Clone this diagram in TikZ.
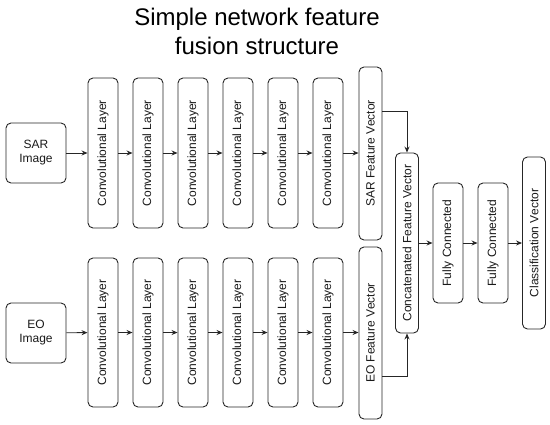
\documentclass[tikz,border=0pt]{standalone}
\usepackage{fontspec}
\setmainfont{Liberation Sans}
\usetikzlibrary{arrows.meta}
\begin{document}
\begin{tikzpicture}[x=1pt,y=-1pt,
  box/.style={draw=black!85, line width=0.9pt, rounded corners=5pt, inner sep=0pt,
    font=\fontsize{12}{14}\selectfont, text=black!90, align=center},
  conv/.style={box, minimum width=30pt, minimum height=150pt},
  vec/.style={box, minimum width=23pt},
  fc/.style={box, minimum width=30pt, minimum height=120pt},
  img/.style={box, minimum width=60pt, minimum height=60pt},
  arr/.style={draw=black!85, line width=0.9pt, -{Stealth[length=6pt,width=5pt]}}]
\useasboundingbox (0,0) rectangle (550,424);
\node[font=\fontsize{24}{29}\selectfont, align=center] (title) at (257,31) {Simple network feature\\fusion structure};
% SAR branch
\node[img] (sar) at (36,153) {SAR\\Image};
\foreach \i in {1,...,6} {
  \node[conv] (c\i) at ({103+45*(\i-1)},153) {\rotatebox{90}{Convolutional Layer}};
}
\node[vec, minimum height=173pt] (sarfv) at (370.5,153.5) {\rotatebox{90}{SAR Feature Vector}};
% EO branch
\node[img] (eo) at (36,333) {EO\\Image};
\foreach \i in {1,...,6} {
  \node[conv, minimum height=149pt] (e\i) at ({103+45*(\i-1)},332.5) {\rotatebox{90}{Convolutional Layer}};
}
\node[vec, minimum height=172pt] (eofv) at (370.5,333) {\rotatebox{90}{EO Feature Vector}};
% fusion
\node[vec, minimum height=180pt] (cat) at (407,243) {\rotatebox{90}{Concatenated Feature Vector}};
\node[fc] (fc1) at (448,243) {\rotatebox{90}{Fully Connected}};
\node[fc] (fc2) at (493,243) {\rotatebox{90}{Fully Connected}};
\node[vec, minimum height=172pt] (cls) at (534,243) {\rotatebox{90}{Classification Vector}};
% connectors
\draw[arr] (sar) -- (c1);
\draw[arr] (eo) -- (e1);
\foreach \a/\b in {1/2,2/3,3/4,4/5,5/6} {
  \draw[arr] (c\a) -- (c\b);
  \draw[arr] (e\a) -- (e\b);
}
\draw[arr] (c6) -- (c6 -| sarfv.west);
\draw[arr] (e6) -- (e6 -| eofv.west);
\draw[arr] ([yshift=42.5pt]sarfv.east) -| (cat.north);
\draw[arr] ([yshift=-43pt]eofv.east) -| (cat.south);
\draw[arr] (cat) -- (fc1);
\draw[arr] (fc1) -- (fc2);
\draw[arr] (fc2) -- (cls);
\end{tikzpicture}
\end{document}
